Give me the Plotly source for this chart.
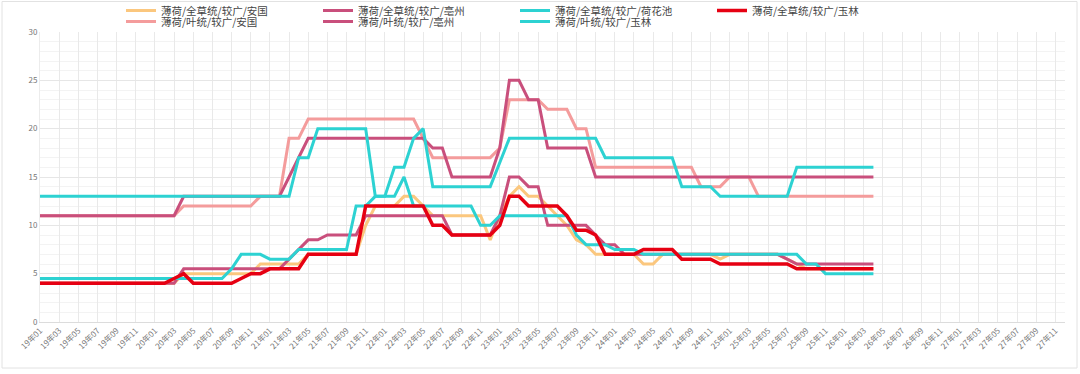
import plotly.graph_objects as go

# ---------------- data ----------------
months = [f"{y}年{m:02d}" for y in range(19, 28) for m in range(1, 13)]  # 19年01 .. 27年12

series_names = [
    "薄荷/全草统/较广/安国",
    "薄荷/全草统/较广/亳州",
    "薄荷/全草统/较广/荷花池",
    "薄荷/全草统/较广/玉林",
    "薄荷/叶统/较广/安国",
    "薄荷/叶统/较广/亳州",
    "薄荷/叶统/较广/玉林",
]

quan_anguo = [
    4, 4, 4, 4, 4, 4, 4, 4, 4, 4, 4, 4,
    4, 4, 4, 5, 5, 5, 5, 5, 5, 5, 5, 6,
    6, 6, 6, 6, 7, 7, 7, 7, 7, 7, 10, 12,
    12, 12, 13, 13, 12, 11, 11, 11, 11, 11, 11, 8.5,
    11, 13, 14, 13, 13, 12, 11, 10, 8.5, 8, 7, 7,
    7, 7, 7, 6, 6, 7, 7, 7, 7, 7, 7, 6.5,
    7, 7, 7, 7, 7, 7, 6.5, 6, 5.5, 5.5, 5.5, 5.5,
    5.5, 5.5, 5.5, 5.5,
]
quan_bozhou = [
    4, 4, 4, 4, 4, 4, 4, 4, 4, 4, 4, 4,
    4, 4, 4, 5.5, 5.5, 5.5, 5.5, 5.5, 5.5, 5.5, 5.5, 5.5,
    5.5, 5.5, 6.5, 7.5, 8.5, 8.5, 9, 9, 9, 9, 11, 11,
    11, 11, 11, 11, 11, 11, 11, 9, 9, 9, 9, 9,
    11, 15, 15, 14, 14, 10, 10, 10, 10, 10, 9, 8,
    8, 7, 7, 7, 7, 7, 7, 7, 7, 7, 7, 7,
    7, 7, 7, 7, 7, 7, 6.5, 6, 6, 6, 6, 6,
    6, 6, 6, 6,
]
quan_hehuachi = [
    4.5, 4.5, 4.5, 4.5, 4.5, 4.5, 4.5, 4.5, 4.5, 4.5, 4.5, 4.5,
    4.5, 4.5, 4.5, 4.5, 4.5, 4.5, 4.5, 4.5, 5.5, 7, 7, 7,
    6.5, 6.5, 6.5, 7.5, 7.5, 7.5, 7.5, 7.5, 7.5, 12, 12, 13,
    13, 13, 15, 12, 12, 12, 12, 12, 12, 12, 10, 10,
    11, 11, 11, 11, 11, 11, 11, 11, 9, 8, 8, 8,
    7.5, 7.5, 7.5, 7, 7, 7, 7, 7, 7, 7, 7, 7,
    7, 7, 7, 7, 7, 7, 7, 7, 6, 6, 5, 5,
    5, 5, 5, 5,
]
quan_yulin = [
    4, 4, 4, 4, 4, 4, 4, 4, 4, 4, 4, 4,
    4, 4, 4.5, 5, 4, 4, 4, 4, 4, 4.5, 5, 5,
    5.5, 5.5, 5.5, 5.5, 7, 7, 7, 7, 7, 7, 12, 12,
    12, 12, 12, 12, 12, 10, 10, 9, 9, 9, 9, 9,
    10, 13, 13, 12, 12, 12, 12, 11, 9.5, 9.5, 9, 7,
    7, 7, 7, 7.5, 7.5, 7.5, 7.5, 6.5, 6.5, 6.5, 6.5, 6,
    6, 6, 6, 6, 6, 6, 6, 5.5, 5.5, 5.5, 5.5, 5.5,
    5.5, 5.5, 5.5, 5.5,
]
ye_anguo = [
    11, 11, 11, 11, 11, 11, 11, 11, 11, 11, 11, 11,
    11, 11, 11, 12, 12, 12, 12, 12, 12, 12, 12, 13,
    13, 13, 19, 19, 21, 21, 21, 21, 21, 21, 21, 21,
    21, 21, 21, 21, 19, 17, 17, 17, 17, 17, 17, 17,
    18, 23, 23, 23, 23, 22, 22, 22, 20, 20, 16, 16,
    16, 16, 16, 16, 16, 16, 16, 16, 16, 14, 14, 14,
    15, 15, 15, 13, 13, 13, 13, 13, 13, 13, 13, 13,
    13, 13, 13, 13,
]
ye_bozhou = [
    11, 11, 11, 11, 11, 11, 11, 11, 11, 11, 11, 11,
    11, 11, 11, 13, 13, 13, 13, 13, 13, 13, 13, 13,
    13, 13, 15, 17, 19, 19, 19, 19, 19, 19, 19, 19,
    19, 19, 19, 19, 19, 18, 18, 15, 15, 15, 15, 15,
    18, 25, 25, 23, 23, 18, 18, 18, 18, 18, 15, 15,
    15, 15, 15, 15, 15, 15, 15, 15, 15, 15, 15, 15,
    15, 15, 15, 15, 15, 15, 15, 15, 15, 15, 15, 15,
    15, 15, 15, 15,
]
ye_yulin = [
    13, 13, 13, 13, 13, 13, 13, 13, 13, 13, 13, 13,
    13, 13, 13, 13, 13, 13, 13, 13, 13, 13, 13, 13,
    13, 13, 13, 17, 17, 20, 20, 20, 20, 20, 20, 13,
    13, 16, 16, 19, 20, 14, 14, 14, 14, 14, 14, 14,
    16.5, 19, 19, 19, 19, 19, 19, 19, 19, 19, 19, 17,
    17, 17, 17, 17, 17, 17, 17, 14, 14, 14, 14, 13,
    13, 13, 13, 13, 13, 13, 13, 16, 16, 16, 16, 16,
    16, 16, 16, 16,
]

series_values = [quan_anguo, quan_bozhou, quan_hehuachi, quan_yulin,
                 ye_anguo, ye_bozhou, ye_yulin]
series_colors = ["#FBC77E", "#C94F7C", "#2DD2D2", "#E60012",
                 "#F49C9C", "#C94F7C", "#2DD2D2"]
series_widths = [3, 3, 3, 3.5, 3, 3, 3]
series_legend = ["legend", "legend", "legend", "legend",
                 "legend2", "legend2", "legend2"]

y_ticks = [0, 5, 10, 15, 20, 25, 30]

# ---------------- figure ----------------
FONT = "Noto Sans CJK SC"
W, H = 1080, 374
ML, MR, MT, MB = 40, 15, 32, 52
PW, PH = W - ML - MR, H - MT - MB


def px_x(px):
    return (px - ML) / PW


def px_y(py):
    return (H - MB - py) / PH


fig = go.Figure()

draw_order = [0, 1, 2, 4, 5, 6, 3]  # red drawn on top
for k in draw_order:
    vals = series_values[k]
    fig.add_trace(go.Scatter(
        x=list(range(len(vals))),
        y=vals,
        mode="lines",
        name=series_names[k],
        line=dict(color=series_colors[k], width=series_widths[k]),
        legend=series_legend[k],
        legendrank=k,
        hoverinfo="skip",
    ))

tick_idx = list(range(0, len(months), 2))

legend_common = dict(
    orientation="h", xref="paper", yref="paper",
    xanchor="left", yanchor="top",
    entrywidth=152, entrywidthmode="pixels",
    font=dict(family=FONT, size=10.5, color="#444"),
    itemwidth=30, tracegroupgap=0,
    bgcolor="rgba(0,0,0,0)",
)

fig.update_layout(
    width=W,
    height=H,
    margin=dict(l=ML, r=MR, t=MT, b=MB, autoexpand=False),
    paper_bgcolor="white",
    plot_bgcolor="white",
    font=dict(family=FONT, size=10, color="#666"),
    showlegend=True,
    legend=dict(legend_common, x=px_x(121), y=px_y(-4)),
    legend2=dict(legend_common, x=px_x(121), y=px_y(7)),
    xaxis=dict(
        range=[0, len(months) - 1],
        tickmode="array",
        tickvals=tick_idx,
        ticktext=[months[i] for i in tick_idx],
        tickangle=-45,
        tickfont=dict(family=FONT, size=8, color="#777"),
        showgrid=True, gridcolor="#e9e9e9", gridwidth=1,
        zeroline=False,
        showline=True, linecolor="#dcdcdc", linewidth=1,
        ticks="", ticklen=0,
        fixedrange=True,
    ),
    yaxis=dict(
        range=[0, 30],
        tickmode="array",
        tickvals=y_ticks,
        tickfont=dict(family=FONT, size=8, color="#777"),
        showgrid=True, gridcolor="#e6e6e6", gridwidth=1,
        minor=dict(dtick=1, showgrid=True, gridcolor="#f3f3f3", gridwidth=1),
        zeroline=False,
        showline=True, linecolor="#ececec", linewidth=1,
        ticks="", ticklen=0,
        fixedrange=True,
    ),
    shapes=[dict(
        type="rect", xref="paper", yref="paper",
        x0=px_x(2), x1=px_x(1077),
        y0=px_y(368), y1=px_y(1.5),
        line=dict(color="#e2e2e2", width=1), fillcolor="rgba(0,0,0,0)",
        layer="below",
    )],
)

fig.write_html(
    "out.html",
    config={"displayModeBar": False},
    post_script="document.body.style.margin='0';document.body.style.overflow='hidden';",
)
